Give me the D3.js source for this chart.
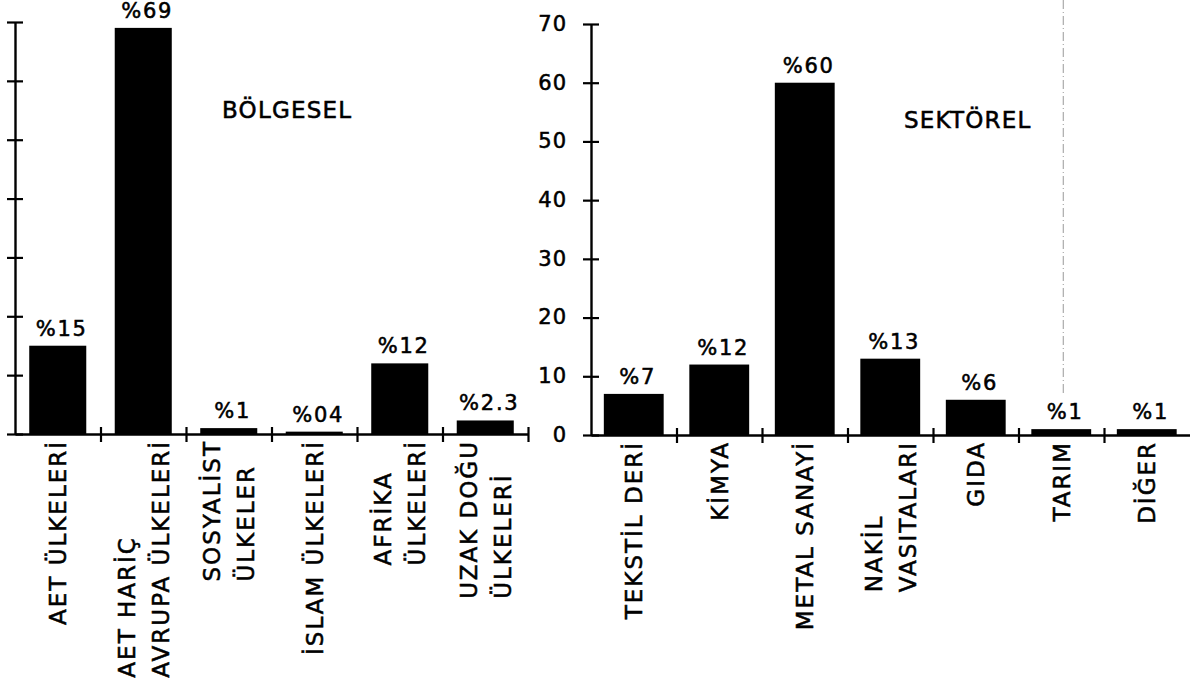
<!DOCTYPE html>
<html>
<head>
<meta charset="utf-8">
<script src="https://cdn.jsdelivr.net/npm/d3@7"></script>
<style>
  html, body { margin: 0; padding: 0; background: #fff; }
  svg { display: block; font-family: "DejaVu Sans", sans-serif; }
  svg text { stroke: #000; stroke-width: 0.55px; fill: #000; }
</style>
</head>
<body>
<svg id="chart" width="1195" height="681"></svg>
<script>
// ---- data ----
const leftTitle = "BÖLGESEL";
const leftCategories = ["AET ÜLKELERİ", "AET HARİÇ\nAVRUPA ÜLKELERİ", "SOSYALİST\nÜLKELER", "İSLAM ÜLKELERİ", "AFRİKA\nÜLKELERİ", "UZAK DOĞU\nÜLKELERİ"];
const leftValues = [15, 69, 1, 0.4, 12, 2.3];
const leftLabels = ["%15", "%69", "%1", "%04", "%12", "%2.3"];

const rightTitle = "SEKTÖREL";
const rightCategories = ["TEKSTİL DERİ", "KİMYA", "METAL SANAYİ", "NAKİL\nVASITALARI", "GIDA", "TARIM", "DİĞER"];
const rightValues = [7, 12, 60, 13, 6, 1, 1];
const rightLabels = ["%7", "%12", "%60", "%13", "%6", "%1", "%1"];

const yTicks = [0, 10, 20, 30, 40, 50, 60, 70];
const yMax = 70;

// ---- drawing ----
const svg = d3.select("#chart");
svg.append("rect").attr("width", 1195).attr("height", 681).attr("fill", "#fff");

function panel(cfg) {
  const n = cfg.categories.length;
  const g = svg.append("g");
  const x = d3.scaleBand().domain(cfg.categories).range(cfg.xRange)
    .paddingInner(cfg.pad).paddingOuter(cfg.pad / 2);
  const xb = d3.scaleLinear().domain([0, n]).range(cfg.xRange);
  const y = d3.scaleLinear().domain([0, yMax]).range(cfg.yRange);

  // bars
  g.selectAll("rect.bar").data(cfg.categories).join("rect")
    .attr("class", "bar")
    .attr("x", d => x(d))
    .attr("width", x.bandwidth())
    .attr("y", (d, i) => y(cfg.values[i]))
    .attr("height", (d, i) => y(0) - y(cfg.values[i]))
    .attr("fill", "#000");

  // y axis
  const ya = g.append("g")
    .attr("transform", `translate(${cfg.xRange[0]},0)`)
    .call(d3.axisLeft(y).tickValues(yTicks).tickSizeInner(8).tickSizeOuter(0).tickPadding(16)
      .tickFormat(cfg.tickLabels ? d3.format("d") : ""));
  ya.select(".domain").attr("stroke", "#000").attr("stroke-width", 2.4);
  ya.selectAll(".tick line").attr("x1", -8).attr("x2", 8).attr("stroke", "#000").attr("stroke-width", 2.2);
  ya.selectAll(".tick text").attr("font-size", 21).attr("fill", "#000")
    .attr("font-family", "DejaVu Sans").attr("letter-spacing", "1px").attr("dy", "0.3em");

  // x axis (ticks at band boundaries)
  const xa = g.append("g")
    .attr("transform", `translate(0,${y(0)})`)
    .call(d3.axisBottom(xb).tickValues(d3.range(1, cfg.endTick ? n + 1 : n)).tickFormat("").tickSizeOuter(0));
  xa.select(".domain").attr("stroke", "#000").attr("stroke-width", 2.4);
  xa.selectAll(".tick line").attr("y1", -7).attr("y2", 8).attr("stroke", "#000").attr("stroke-width", 2.2);

  // value labels
  g.selectAll("text.val").data(cfg.categories).join("text")
    .attr("class", "val")
    .attr("x", d => x(d) + x.bandwidth() / 2 + 4)
    .attr("y", (d, i) => y(cfg.values[i]) - 10)
    .attr("text-anchor", "middle")
    .attr("font-size", 21)
    .attr("letter-spacing", "1.8px")
    .text((d, i) => cfg.labels[i]);

  // category labels (rotated, start-aligned lines)
  const lineGap = 34, fs = 23, capHalf = 0.729 * fs / 2;
  cfg.categories.forEach(c => {
    const lines = c.split("\n");
    const cx = x(c) + x.bandwidth() / 2;
    const lg = g.append("g").attr("transform", `translate(${cx},${y(0) + 6}) rotate(-90)`);
    const texts = lines.map((ln, i) => lg.append("text")
      .attr("y", (i - (lines.length - 1) / 2) * lineGap + capHalf)
      .attr("font-size", fs)
      .attr("letter-spacing", "2px")
      .attr("text-anchor", "start")
      .text(ln));
    const maxLen = d3.max(texts, t => t.node().getComputedTextLength());
    texts.forEach(t => t.attr("x", -maxLen));
  });

  // title
  g.append("text")
    .attr("x", cfg.titlePos[0]).attr("y", cfg.titlePos[1])
    .attr("font-size", 23).attr("letter-spacing", "1.2px")
    .text(cfg.title);

  return { x, y, xb };
}

panel({
  categories: leftCategories, values: leftValues, labels: leftLabels,
  xRange: [15, 528], yRange: [434, 22], pad: 0.333,
  tickLabels: false, endTick: true, title: leftTitle, titlePos: [222, 118]
});

const R = panel({
  categories: rightCategories, values: rightValues, labels: rightLabels,
  xRange: [591, 1189.5], yRange: [435, 24], pad: 0.3,
  tickLabels: true, endTick: false, title: rightTitle, titlePos: [904, 128]
});

// faint dash-dot scan line in the right panel
svg.append("line")
  .attr("x1", R.x("TARIM") + R.x.bandwidth() / 2 + 2).attr("x2", R.x("TARIM") + R.x.bandwidth() / 2 + 2)
  .attr("y1", 0).attr("y2", R.y(7))
  .attr("stroke", "#999").attr("stroke-width", 1)
  .attr("stroke-dasharray", "9,3,1,3");
</script>
</body>
</html>
